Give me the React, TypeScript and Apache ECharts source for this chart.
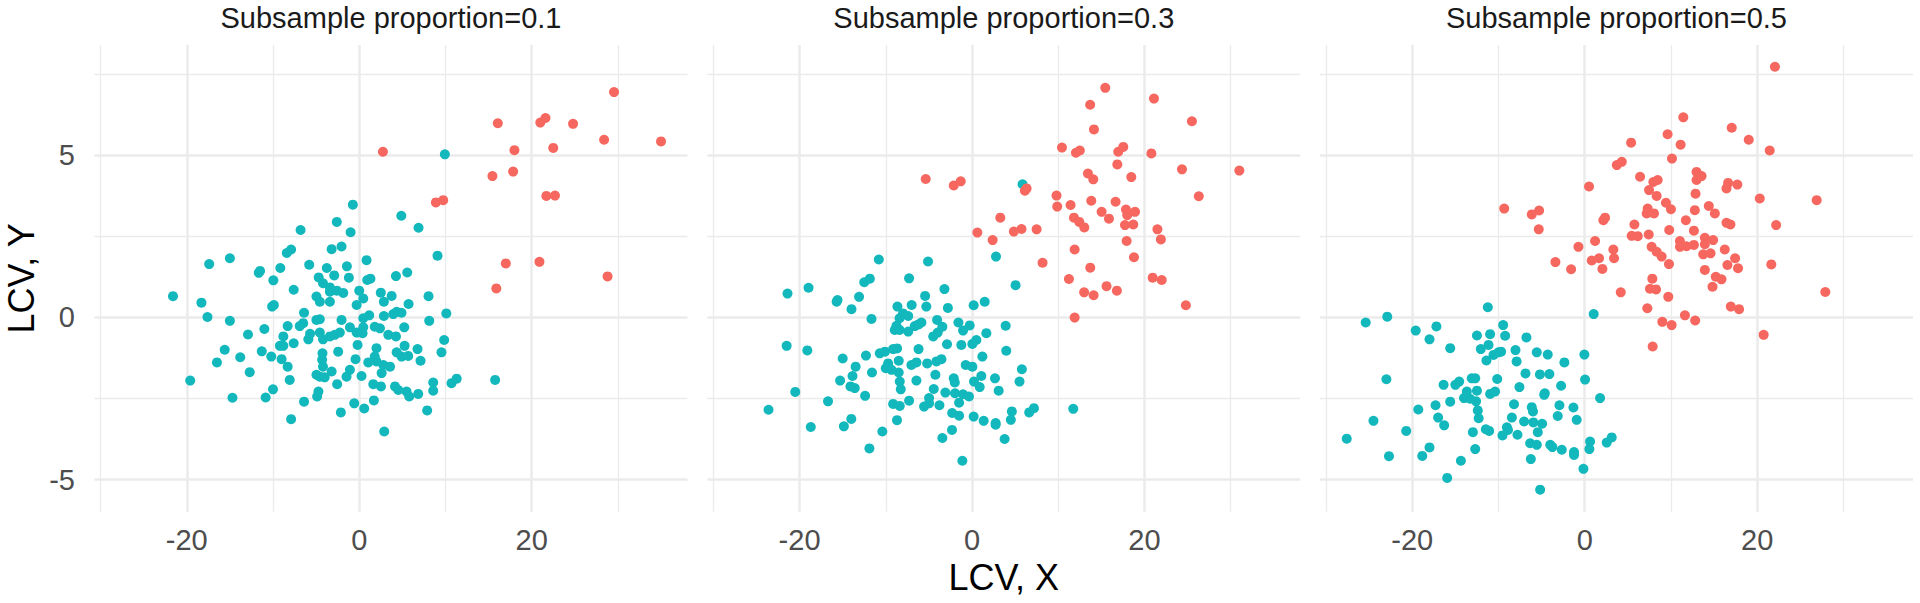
import React, { useEffect, useRef } from 'react';
import * as echarts from 'echarts';

const panelTitles = ['Subsample proportion=0.1', 'Subsample proportion=0.3', 'Subsample proportion=0.5'];
const xTickLabels = [-20, 0, 20];
const yTickLabels = [-5, 0, 5];
const xMajorGrid = [-20, 0, 20];
const xMinorGrid = [-30, -10, 10, 30];
const yMajorGrid = [-5, 0, 5];
const yMinorGrid = [-2.5, 2.5, 7.5];
const xAxisTitle = 'LCV, X';
const yAxisTitle = 'LCV, Y';

const p1Teal = [
  [-0.74, 3.47], [-2.6, 2.94], [-1.0, 2.62], [-6.8, 2.69], [4.88, 3.13], [-3.2, 2.1], [-2.05, 2.18], [-7.9, 2.09], [-8.4, 1.98],
  [-15.0, 1.82], [-17.4, 1.64], [-5.8, 1.62], [-9.15, 1.52], [-3.76, 1.52], [-1.43, 1.57], [0.85, 1.76], [-11.65, 1.37], [-11.5, 1.43],
  [-9.96, 1.14], [-4.7, 1.23], [-2.9, 1.29], [-1.2, 1.22], [4.26, 1.27], [0.93, 1.15], [1.3, 1.19], [-4.2, 1.05], [-3.4, 0.92],
  [-3.4, 0.79], [-2.6, 0.82], [-1.85, 0.75], [-4.96, 0.64], [-4.57, 0.48], [-3.4, 0.48], [0, 0.82], [0.47, 0.58], [-0.3, 0.38],
  [2.5, 0.76], [2.86, 0.48], [3.76, 0.66], [-21.6, 0.65], [-18.3, 0.45], [-17.6, 0.01], [-15.0, -0.11], [-10.1, 0.33], [-9.9, 0.38],
  [-7.6, 0.85], [-6.4, 0.14], [-4.96, -0.08], [-4.57, -0.06], [-6.5, -0.18], [-6.9, -0.27], [-2.05, -0.08], [0.47, -0.03], [1.16, 0.06],
  [2.86, 0.04], [3.95, 0.1], [4.34, 0.17], [-12.9, -0.53], [-11.0, -0.36], [-8.3, -0.27], [-8.8, -0.59], [-7.6, -0.8], [-9.2, -0.88],
  [-8.8, -0.88], [-5.7, -0.51], [-5.9, -0.68], [-4.57, -0.47], [-4.2, -0.68], [-3.4, -0.59], [-2.83, -0.54], [-2.25, -0.47], [-1.08, -0.31],
  [-0.3, -0.47], [0.47, -0.31], [0.39, -0.49], [1.8, -0.29], [2.4, -0.34], [3.37, -0.54], [4.26, -0.59], [-2.44, -1.06], [-0.19, -0.85],
  [-4.26, -1.11], [-4.3, -1.31], [-4.2, -1.52], [2.0, -0.95], [1.8, -1.21], [2.0, -1.36], [1.05, -1.39], [2.8, -1.47], [3.57, -1.52],
  [4.34, -1.08], [-15.6, -1.0], [-13.8, -1.23], [-16.5, -1.39], [-11.3, -1.05], [-10.2, -1.21], [-9.0, -1.29], [-8.3, -1.52], [-12.7, -1.69],
  [-19.6, -1.95], [-8.06, -1.93], [-4.96, -1.77], [-4.57, -1.83], [-4.0, -1.85], [-3.2, -1.67], [-0.43, -1.29], [-1.08, -1.62], [-1.47, -1.83],
  [0.27, -1.81], [2.6, -1.72], [1.63, -2.06], [2.52, -2.13], [4.15, -2.13], [4.53, -2.24], [-2.56, -2.06], [-10.0, -2.22], [-10.85, -2.47],
  [-14.7, -2.48], [-4.73, -2.29], [-4.88, -2.44], [-6.4, -2.6], [-0.58, -2.65], [0.58, -2.81], [1.7, -2.56], [-2.13, -2.93], [-7.9, -3.14],
  [2.9, -3.52],
  [9.93, 5.02], [6.88, 2.76], [9.08, 1.9], [5.57, 1.38], [8.04, 0.65], [5.72, 0.41], [10.1, 0.12], [8.12, -0.11], [4.9, 0.14],
  [5.22, -0.31], [9.85, -0.7], [5.26, -0.88], [6.76, -0.98], [4.91, -1.21], [5.68, -1.19], [9.54, -1.08], [7.11, -1.34], [5.49, -2.29],
  [5.8, -2.44], [6.84, -2.36], [8.58, -2.01], [8.58, -2.26], [10.7, -2.03], [11.3, -1.89], [15.76, -1.93], [7.88, -2.87],
];
const p1Red = [
  [2.75, 5.1], [29.55, 6.94], [16.07, 5.98], [21.0, 6.0], [21.6, 6.14], [24.8, 5.96], [28.4, 5.47], [35.0, 5.42], [18.0, 5.15],
  [22.5, 5.22], [15.45, 4.35], [17.85, 4.49], [8.89, 3.54], [9.74, 3.61], [21.7, 3.74], [22.7, 3.75], [17.0, 1.66], [20.9, 1.71],
  [28.8, 1.26], [15.9, 0.89],
];

const p2Teal = [
  [-10.81, 1.78], [-5.1, 1.72], [2.78, 1.87], [-7.3, 1.2], [-12.5, 1.08], [-11.85, 1.19], [-21.4, 0.73], [-18.96, 0.91], [-15.7, 0.48],
  [-15.6, 0.53], [-13.1, 0.63], [-13.98, 0.25], [-11.66, -0.05], [-3.2, 0.87], [-5.44, 0.66], [-8.65, 0.33], [-7.0, 0.38], [-5.3, 0.33],
  [-2.8, 0.29], [0.19, 0.37], [1.47, 0.48], [-8.0, 0.12], [-7.4, 0.04], [-8.4, -0.03], [-8.76, -0.26], [-8.96, -0.39], [-8.4, -0.39],
  [-7.4, -0.44], [-6.64, -0.27], [-5.87, -0.16], [-6.2, -0.22], [-4.05, -0.08], [-3.44, -0.29], [-3.98, -0.47], [-4.5, -0.59], [-1.58, -0.16],
  [-1.04, -0.41], [-0.27, -0.25], [1.66, -0.49], [0.5, -0.7], [0.04, -0.82], [-1.24, -0.85], [3.9, -0.26], [-2.9, -0.83], [-6.2, -0.98],
  [3.97, -1.03], [-21.5, -0.88], [-19.1, -1.02], [-15.0, -1.27], [-12.3, -1.18], [-10.7, -1.11], [-10.1, -1.06], [-9.15, -0.98], [-8.69, -0.96],
  [-13.5, -1.52], [-11.6, -1.7], [-13.86, -1.81], [-9.73, -1.42], [-10.0, -1.57], [-9.34, -1.62], [-8.5, -1.7], [-8.5, -1.34], [-7.03, -1.47],
  [-6.45, -1.39], [-5.2, -1.42], [-4.13, -1.36], [-3.55, -1.29], [-4.25, -1.77], [-6.45, -1.95], [-8.38, -1.98], [-8.26, -2.22], [-15.3, -1.95],
  [-14.1, -2.13], [-13.6, -2.18], [-12.4, -2.42], [-0.73, -1.47], [0.04, -1.52], [1.2, -1.21], [-2.12, -1.88], [-2.0, -2.01], [1.08, -1.81],
  [0.23, -1.98], [0.89, -2.15], [2.66, -1.88], [3.09, -2.26], [-4.44, -2.21], [-3.09, -2.32], [-1.97, -2.34], [-1.04, -2.37], [-0.35, -2.44],
  [-20.5, -2.3], [-16.7, -2.59], [-23.6, -2.85], [-9.15, -2.67], [-8.38, -2.73], [-7.3, -2.57], [-4.98, -2.49], [-4.98, -2.65], [-5.56, -2.75],
  [-3.78, -2.71], [-1.5, -2.63], [-2.3, -2.95], [-1.5, -3.03], [0.19, -3.06], [1.35, -3.19], [2.74, -3.26], [2.74, -3.31], [-18.7, -3.38],
  [-14.86, -3.36], [-14.0, -3.13], [-10.4, -3.52], [-8.7, -3.17], [-3.44, -3.72], [-2.32, -3.47], [-11.9, -4.04], [-1.12, -4.42], [3.78, -3.75],
  [5.86, 4.1], [5.05, 0.99], [5.78, -1.6], [5.51, -1.98], [4.62, -2.9], [4.5, -3.16], [6.63, -2.93], [7.18, -2.8], [11.74, -2.82],
];
const p2Red = [
  [-5.37, 4.26], [-2.12, 4.06], [-1.31, 4.19], [3.28, 3.07], [0.62, 2.61], [2.39, 2.38], [15.45, 7.07], [21.1, 6.74], [13.7, 6.55],
  [25.5, 6.04], [14.14, 5.79], [10.43, 5.23], [12.05, 5.07], [12.5, 5.14], [16.96, 5.1], [17.54, 5.25], [20.8, 5.05], [16.85, 4.71],
  [24.35, 4.56], [31.0, 4.52], [13.44, 4.43], [14.06, 4.25], [18.47, 4.32], [6.13, 3.9], [6.33, 3.97], [9.8, 3.75], [9.88, 3.41],
  [11.43, 3.46], [13.83, 3.59], [16.65, 3.56], [26.3, 3.73], [11.82, 3.07], [12.44, 2.94], [13.02, 2.77], [15.03, 3.25], [15.88, 3.04],
  [17.85, 3.32], [18.0, 3.15], [18.9, 3.25], [17.74, 2.84], [18.7, 2.86], [21.5, 2.71], [21.9, 2.4], [4.85, 2.64], [5.74, 2.72],
  [7.49, 2.71], [11.9, 2.09], [17.93, 2.35], [18.78, 1.85], [8.18, 1.68], [13.71, 1.53], [11.24, 1.18], [20.95, 1.22], [22.0, 1.15],
  [15.6, 0.96], [13.0, 0.77], [14.1, 0.68], [16.8, 0.82], [24.8, 0.37], [11.9, -0.01],
];

const p3Teal = [
  [-11.24, 0.31], [1.04, 0.1], [-25.4, -0.16], [-22.9, 0.02], [-19.6, -0.41], [-17.2, -0.28], [-18.0, -0.68], [-15.6, -0.95], [-12.5, -0.56],
  [-10.97, -0.52], [-9.46, -0.24], [-9.23, -0.57], [-6.76, -0.62], [-11.16, -0.85], [-12.05, -0.98], [-11.4, -1.33], [-10.58, -1.16], [-10.0, -1.08],
  [-9.7, -1.06], [-8.03, -1.01], [-7.9, -1.36], [-5.56, -1.08], [-4.29, -1.15], [-2.36, -1.39], [-0.04, -1.15], [-6.87, -1.73], [-5.2, -1.76],
  [-4.1, -1.75], [0.04, -1.92], [-23.0, -1.91], [-16.37, -2.08], [-15.0, -2.08], [-14.56, -1.98], [-13.1, -1.88], [-12.7, -1.88], [-10.15, -1.9],
  [-7.57, -2.15], [-2.74, -2.11], [-4.63, -2.34], [-4.7, -2.39], [-13.67, -2.29], [-12.5, -2.26], [-10.97, -2.36], [-10.4, -2.29], [-14.0, -2.49],
  [-13.3, -2.51], [-12.6, -2.59], [-15.6, -2.6], [1.78, -2.49], [-19.3, -2.84], [-17.3, -2.71], [-17.0, -3.09], [-16.3, -3.33], [-12.4, -2.87],
  [-12.3, -3.11], [-8.2, -2.68], [-8.45, -3.09], [-6.14, -2.77], [-6.0, -2.9], [-2.93, -2.71], [-1.31, -2.78], [-3.13, -3.04], [-0.93, -3.16],
  [-7.03, -3.21], [-5.95, -3.24], [-4.94, -3.28], [-5.44, -3.54], [-9.03, -3.39], [-8.9, -3.47], [-11.47, -3.45], [-11.08, -3.5], [-12.97, -3.54],
  [-9.54, -3.64], [-7.8, -3.62], [-24.5, -3.19], [-27.6, -3.74], [-20.7, -3.5], [-22.7, -4.28], [-18.84, -4.27], [-18.0, -4.01], [-14.36, -4.42],
  [-12.7, -4.06], [-15.95, -4.95], [-6.33, -3.88], [-5.56, -3.93], [-4.0, -3.93], [-3.75, -4.0], [-2.66, -4.08], [-1.24, -4.15], [-1.24, -4.24],
  [0.62, -3.83], [0.54, -4.06], [2.55, -3.86], [3.13, -3.7], [-6.25, -4.37], [-0.15, -4.67], [-5.17, -5.31],
];
const p3Red = [
  [0.5, 4.03], [-9.34, 3.35], [-6.14, 3.17], [-5.29, 3.29], [-5.33, 2.71], [2.16, 2.99], [2.36, 3.07], [1.2, 2.35], [-0.73, 2.17],
  [3.32, 2.09], [3.4, 1.82], [0.81, 1.75], [1.66, 1.82], [-3.4, 1.7], [-1.58, 1.48], [2.05, 1.49],
  [22.06, 7.72], [11.43, 6.16], [17.05, 5.84], [9.61, 5.64], [19.02, 5.47], [5.38, 5.38], [11.12, 5.32], [21.45, 5.14], [10.12, 4.89],
  [3.72, 4.69], [4.3, 4.79], [6.42, 4.33], [7.96, 4.17], [8.46, 4.23], [12.97, 4.48], [13.55, 4.35], [12.97, 4.23], [7.46, 3.92],
  [8.34, 3.74], [12.85, 3.81], [16.63, 4.14], [16.44, 3.97], [17.7, 4.09], [20.3, 3.66], [26.9, 3.61], [9.42, 3.53], [10.0, 3.33],
  [7.3, 3.35], [7.19, 3.2], [8.03, 3.2], [12.77, 3.3], [14.39, 3.43], [15.09, 3.2], [11.73, 2.99], [16.44, 2.91], [16.9, 2.86],
  [22.2, 2.84], [5.76, 2.86], [9.8, 2.69], [12.66, 2.67], [5.45, 2.51], [6.15, 2.5], [7.42, 2.55], [11.04, 2.35], [11.81, 2.19],
  [11.04, 2.17], [12.66, 2.23], [13.93, 2.45], [14.89, 2.38], [13.93, 2.25], [7.76, 2.17], [8.34, 2.02], [8.92, 1.87], [13.74, 1.94],
  [14.59, 1.97], [16.24, 2.09], [17.44, 1.82], [16.55, 1.61], [17.78, 1.51], [9.77, 1.64], [21.64, 1.63], [13.93, 1.46], [15.2, 1.25],
  [15.86, 1.17], [14.82, 0.94], [7.84, 1.19], [7.57, 0.88], [8.27, 0.86], [4.18, 0.77], [9.69, 0.63], [27.9, 0.78], [7.26, 0.28],
  [16.94, 0.33], [17.9, 0.25], [11.62, 0.06], [9.0, -0.14], [10.08, -0.24], [12.81, -0.1], [20.75, -0.54], [7.88, -0.9],
];

const tealPanels = [p1Teal, p2Teal, p3Teal];
const redPanels = [p1Red, p2Red, p3Red];

const X_MIN = -30.7;
const X_MAX = 38.07;
const Y_MIN = -5.99;
const Y_MAX = 8.39;

const TEAL = '#12B8BC';
const RED = '#F6675F';
const GRID_COLOR = '#EBEBEB';
const FONT = '"Liberation Sans", Arial, Helvetica, sans-serif';

const PANEL_LEFT = [94.5, 707.3, 1320];
const PANEL_WIDTH = 593;
const PANEL_TOP = 45;
const PANEL_HEIGHT = 466.7;

export default function App() {
  const ref = useRef<HTMLDivElement>(null);

  useEffect(() => {
    document.body.style.margin = '0';
    if (!ref.current) return;
    const chart = echarts.init(ref.current, undefined, { renderer: 'svg' });

    const grids = PANEL_LEFT.map((left) => ({
      left,
      top: PANEL_TOP,
      width: PANEL_WIDTH,
      height: PANEL_HEIGHT,
      containLabel: false,
    }));

    const xAxes = PANEL_LEFT.map((_, i) => ({
      gridIndex: i,
      type: 'value',
      min: X_MIN,
      max: X_MAX,
      axisLine: { show: false },
      axisTick: { show: false },
      splitLine: { show: false },
      axisLabel: {
        customValues: xTickLabels,
        fontSize: 29,
        color: '#4D4D4D',
        fontFamily: FONT,
        margin: 14,
      },
    }));

    const yAxes = PANEL_LEFT.map((_, i) => ({
      gridIndex: i,
      type: 'value',
      min: Y_MIN,
      max: Y_MAX,
      axisLine: { show: false },
      axisTick: { show: false },
      splitLine: { show: false },
      axisLabel: {
        show: i === 0,
        customValues: yTickLabels,
        fontSize: 29,
        color: '#4D4D4D',
        fontFamily: FONT,
        margin: 19.5,
      },
    }));

    const gridSeries = PANEL_LEFT.map((_, i) => ({
      type: 'line',
      xAxisIndex: i,
      yAxisIndex: i,
      data: [],
      z: 1,
      silent: true,
      markLine: {
        z: 1,
        silent: true,
        symbol: ['none', 'none'],
        label: { show: false },
        animation: false,
        lineStyle: { type: 'solid', color: GRID_COLOR },
        emphasis: { disabled: true },
        data: [
          ...xMinorGrid.map((v) => ({ xAxis: v, lineStyle: { width: 1.3, type: 'solid', color: GRID_COLOR } })),
          ...yMinorGrid.map((v) => ({ yAxis: v, lineStyle: { width: 1.3, type: 'solid', color: GRID_COLOR } })),
          ...xMajorGrid.map((v) => ({ xAxis: v, lineStyle: { width: 2.5, type: 'solid', color: GRID_COLOR } })),
          ...yMajorGrid.map((v) => ({ yAxis: v, lineStyle: { width: 2.5, type: 'solid', color: GRID_COLOR } })),
        ],
      },
    }));

    const pointSeries: any[] = [];
    PANEL_LEFT.forEach((_, i) => {
      pointSeries.push({
        type: 'scatter',
        xAxisIndex: i,
        yAxisIndex: i,
        data: tealPanels[i],
        symbolSize: 10,
        itemStyle: { color: TEAL, opacity: 1 },
        z: 10,
        silent: true,
      });
      pointSeries.push({
        type: 'scatter',
        xAxisIndex: i,
        yAxisIndex: i,
        data: redPanels[i],
        symbolSize: 10,
        itemStyle: { color: RED, opacity: 1 },
        z: 11,
        silent: true,
      });
    });

    const graphics: any[] = panelTitles.map((t, i) => ({
      type: 'text',
      x: PANEL_LEFT[i] + PANEL_WIDTH / 2,
      y: 18.3,
      style: {
        text: t,
        fontSize: 29,
        fontFamily: FONT,
        fill: '#1A1A1A',
        align: 'center',
        verticalAlign: 'middle',
      },
    }));
    graphics.push({
      type: 'text',
      x: (PANEL_LEFT[0] + PANEL_LEFT[2] + PANEL_WIDTH) / 2,
      y: 577,
      style: {
        text: xAxisTitle,
        fontSize: 36,
        fontFamily: FONT,
        fill: '#000000',
        align: 'center',
        verticalAlign: 'middle',
      },
    });
    graphics.push({
      type: 'text',
      x: 21,
      y: PANEL_TOP + PANEL_HEIGHT / 2,
      rotation: Math.PI / 2,
      style: {
        text: yAxisTitle,
        fontSize: 36,
        fontFamily: FONT,
        fill: '#000000',
        align: 'center',
        verticalAlign: 'middle',
      },
    });

    chart.setOption({
      animation: false,
      backgroundColor: '#FFFFFF',
      grid: grids,
      xAxis: xAxes,
      yAxis: yAxes,
      series: [...gridSeries, ...pointSeries],
      graphic: graphics,
    });

    return () => {
      chart.dispose();
    };
  }, []);

  return <div ref={ref} style={{ width: 1920, height: 603 }} />;
}
